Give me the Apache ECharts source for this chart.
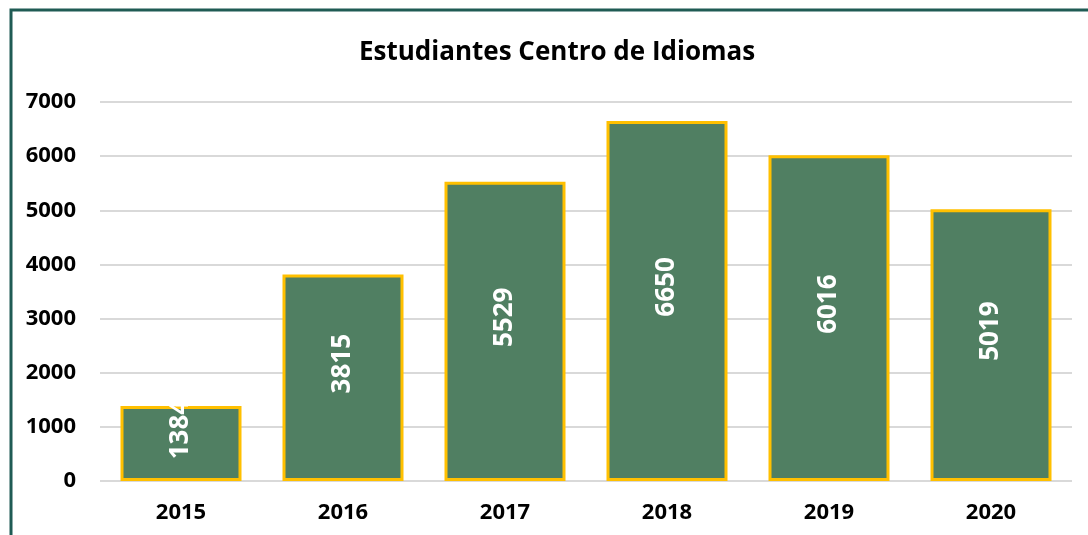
<!DOCTYPE html>
<html>
<head>
<meta charset="utf-8">
<script src="https://cdn.jsdelivr.net/npm/echarts@6/dist/echarts.min.js"></script>
<style>
  html, body { margin: 0; padding: 0; background: #fff; }
  #main { width: 1088px; height: 535px; }
</style>
</head>
<body>
<div id="main"></div>
<script>
// datos del gráfico
const years = ["2015", "2016", "2017", "2018", "2019", "2020"];
const students = [1384, 3815, 5529, 6650, 6016, 5019];
const yTicks = [0, 1000, 2000, 3000, 4000, 5000, 6000, 7000];

const chart = echarts.init(document.getElementById("main"));
chart.setOption({
  animation: false,
  textStyle: { fontFamily: "Open Sans" },
  title: {
    text: "Estudiantes Centro de Idiomas",
    left: 354,
    top: 35,
    textStyle: { fontSize: 26, fontWeight: "bold", color: "#000", fontFamily: "Open Sans" },
  },
  // marco exterior
  graphic: [
    {
      type: "rect",
      shape: { x: 11, y: 10, width: 1200, height: 700 },
      style: { fill: "none", stroke: "#1F5B54", lineWidth: 3 },
      silent: true,
    },
  ],
  grid: { left: 100, right: 16, top: 102, bottom: 54, containLabel: false },
  xAxis: {
    type: "category",
    data: years,
    axisLine: { show: false },
    axisTick: { show: false },
    axisLabel: { color: "#000", fontSize: 22, fontWeight: "bold", margin: 21 },
  },
  yAxis: {
    type: "value",
    min: yTicks[0],
    max: yTicks[yTicks.length - 1],
    interval: 1000,
    axisLine: { show: false },
    axisTick: { show: false },
    axisLabel: {
      color: "#000",
      fontSize: 22,
      fontWeight: "bold",
      margin: 24,
      formatter: (v) => String(v),
    },
    splitLine: { lineStyle: { color: "#D9D9D9", width: 2 } },
  },
  series: [
    {
      type: "bar",
      data: students,
      barWidth: 121,
      itemStyle: { color: "#507F62", borderColor: "#FFC000", borderWidth: 3 },
      label: {
        show: true,
        position: "inside",
        rotate: 90,
        offset: [14, 0],
        color: "#fff",
        fontSize: 26,
        fontWeight: "bold",
      },
    },
  ],
});
</script>
</body>
</html>
